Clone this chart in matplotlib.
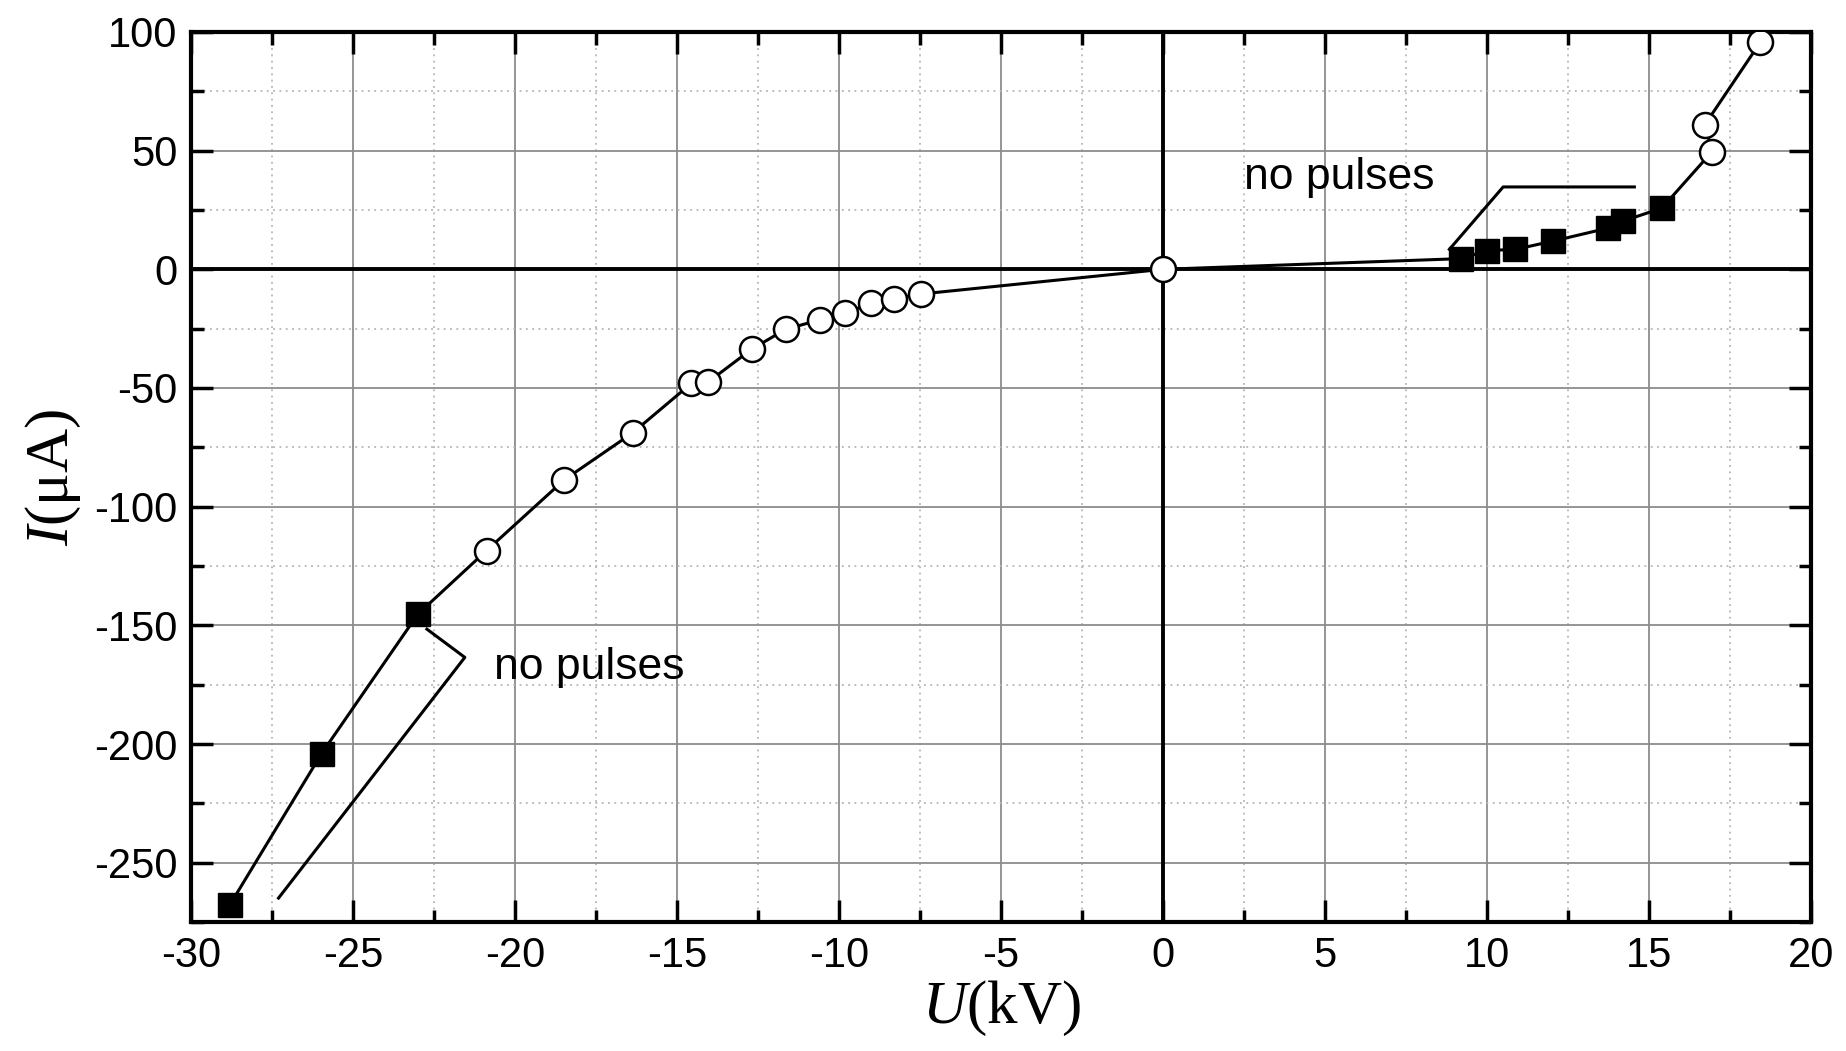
import numpy as np
import matplotlib
matplotlib.use('Agg')
import matplotlib.pyplot as plt
from matplotlib.ticker import MultipleLocator

plt.rcParams['font.family'] = ['Liberation Sans', 'DejaVu Sans']
plt.rcParams['axes.unicode_minus'] = False
plt.rcParams['mathtext.fontset'] = 'custom'
plt.rcParams['mathtext.it'] = 'Liberation Serif:italic'
plt.rcParams['mathtext.rm'] = 'Liberation Serif'

# open circles (pulsed regime)
u_open = [-20.88, -18.48, -16.37, -14.56, -14.05, -12.7, -11.65, -10.6, -9.8, -9.0, -8.31, -7.47,
          0.0, 16.95, 16.73, 18.44]
i_open = [-118.5, -88.7, -68.9, -48.1, -47.6, -33.7, -25.3, -21.3, -18.3, -14.4, -12.4, -10.4,
          0.0, 49.6, 61.0, 95.7]
# filled squares (no pulses)
u_filled = [-28.8, -25.97, -23.0, 9.2, 10.0, 10.88, 12.04, 13.75, 14.2, 15.4]
i_filled = [-267.7, -204.0, -145.3, 4.5, 7.9, 8.4, 11.9, 17.4, 20.3, 25.8]

# "no pulses" brackets
br_top_u = [8.84, 10.5, 14.55]
br_top_i = [8.4, 34.7, 34.7]
br_bot_u = [-22.72, -21.55, -27.3]
br_bot_i = [-151.6, -163.5, -264.9]

fig = plt.figure(figsize=(18.46, 10.51), dpi=100)
ax = fig.add_axes([0.1035, 0.1227, 0.8775, 0.8469])

u_all = np.array(u_open + u_filled)
i_all = np.array(i_open + i_filled)
order = np.argsort(i_all)
ax.plot(u_all[order], i_all[order], color='black', lw=2.2, zorder=3)
ax.plot(u_open, i_open, 'o', ms=18, mfc='white', mec='black', mew=1.8, ls='none', zorder=4)
ax.plot(u_filled, i_filled, 's', ms=17, mfc='black', mec='black', ls='none', zorder=4)

ax.plot(br_top_u, br_top_i, color='black', lw=2.2, zorder=3)
ax.plot(br_bot_u, br_bot_i, color='black', lw=2.2, zorder=3)
ax.text(5.43, 38.7, 'no pulses', fontsize=32, ha='center', va='center')
ax.text(-20.65, -167.6, 'no pulses', fontsize=32, ha='left', va='center')

ax.axhline(0, color='black', lw=2.8, zorder=2)
ax.axvline(0, color='black', lw=2.8, zorder=2)

ax.set_xlim(-30, 20)
ax.set_ylim(-275, 100)
ax.xaxis.set_major_locator(MultipleLocator(5))
ax.xaxis.set_minor_locator(MultipleLocator(2.5))
ax.yaxis.set_major_locator(MultipleLocator(50))
ax.yaxis.set_minor_locator(MultipleLocator(25))
ax.grid(which='major', color='#8c8c8c', lw=1.3, ls='-', zorder=0)
ax.grid(which='minor', color='#b5b5b5', lw=1.3, ls=(0, (1, 2.5)), zorder=0)
ax.set_axisbelow(True)

ax.tick_params(which='both', direction='in', top=True, right=True, width=2.5, labelsize=30, pad=10)
ax.tick_params(which='major', length=16)
ax.tick_params(which='minor', length=9)
for s in ax.spines.values():
    s.set_linewidth(3)

ax.set_xlabel(r'$U$(kV)', fontsize=44, family='Liberation Serif', labelpad=2)
ax.set_ylabel(r'$I$($\mathrm{\mu}$A)', fontsize=44, family='Liberation Serif', labelpad=8)

fig.savefig('out.png', dpi=100)
